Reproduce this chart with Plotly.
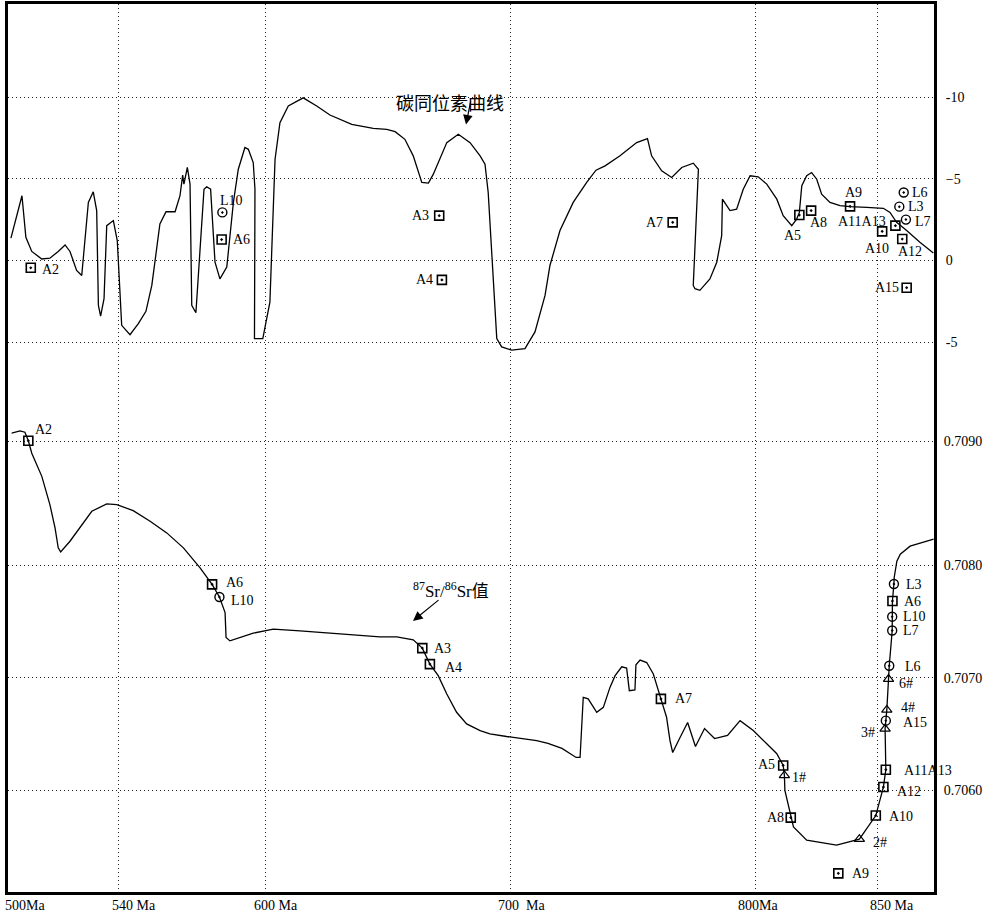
import plotly.graph_objects as go

# ---------------- data ----------------
# Carbon isotope curve: age (Ma) and delta13C (permil)
c_age = [496.3, 500.8, 502.4, 504.8, 508.9, 512.2, 515.6, 518.4, 520.4, 523.1, 525.2, 527.9, 529.9,
         531.3, 532.0, 532.9, 534.3, 535.4, 538.1, 539.7, 541.5, 544.9, 548.3, 551.4, 553.8, 557.1,
         559.6, 563.3, 565.3, 566.4, 566.9, 568.3, 569.4, 570.1, 571.8, 575.1, 576.2, 577.8, 579.6,
         581.6, 584.4, 587.1, 589.1, 591.8, 593.2, 595.2, 595.9, 595.7, 599.1, 602.0, 604.1, 606.1,
         609.5, 615.6, 621.1, 626.5, 635.4, 644.2, 649.7, 653.1, 657.1, 660.5, 664.0, 666.7, 668.7,
         671.1, 674.2, 678.9, 683.7, 687.8, 689.8, 691.1, 694.6, 696.6, 700.7, 706.1, 710.2, 714.3,
         716.3, 720.4, 725.8, 731.3, 735.1, 738.8, 744.9, 751.7, 756.1, 757.8, 761.9, 766.0, 770.1,
         774.8, 776.9, 774.8, 775.5, 777.5, 781.6, 784.4, 786.4, 786.7, 789.8, 792.5, 795.2, 798.0,
         801.3, 804.8, 808.9, 811.5, 815.0, 817.0, 818.1, 819.1, 821.1, 823.1, 825.2, 827.2, 830.6,
         834.7, 838.8, 845.6, 852.4, 855.1, 857.8, 861.9, 867.3, 872.8]
c_val = [1.37, 3.96, 1.42, 0.55, 0.09, 0.14, 0.55, 0.95, 0.55, -0.61, -0.92, 3.55, 4.20,
         3.05, -2.75, -3.40, -2.34, 2.13, 2.44, 1.22, -3.97, -4.54, -3.87, -3.11, -1.53, 2.23,
         2.98, 2.98, 3.96, 5.22, 4.67, 5.69, 4.67, -2.75, -3.20, 4.36, 4.51, 4.36, -0.11,
         -1.13, -0.41, 3.55, 5.58, 6.91, 6.80, 5.99, 4.36, -4.78, -4.78, -2.55, 6.19, 8.43,
         9.45, 9.95, 9.45, 8.90, 8.33, 8.08, 8.02, 7.88, 7.41, 6.40, 4.77, 4.73, 5.28,
         6.09, 7.21, 7.72, 7.21, 6.40, 5.89, 4.16, -4.78, -5.29, -5.49, -5.39, -4.37, -2.14,
         -0.31, 1.83, 3.55, 4.77, 5.52, 5.79, 6.40, 7.21, 7.45, 6.40, 5.48, 5.08, 5.69,
         5.95, 5.58, -1.53, -1.73, -1.83, -1.13, -0.11, 1.52, 3.75, 3.05, 3.14, 4.36, 5.18,
         5.12, 4.67, 3.75, 2.74, 2.13, 2.53, 2.94, 4.57, 5.18, 5.38, 4.97, 4.06, 3.55,
         3.35, 3.29, 3.25, 3.19, 2.94, 2.33, 1.83, 1.11, 0.46]

# 87Sr/86Sr curve: age (Ma) and ratio
sr_age = [496.6, 500.0, 502.0, 503.4, 504.8, 508.9, 512.2, 514.3, 515.6, 516.6, 520.4, 524.5, 529.3,
          535.4, 539.5, 546.2, 553.1, 559.9, 566.7, 573.5, 578.4, 581.4, 583.7, 584.1, 585.7, 595.2,
          603.4, 614.3, 646.9, 653.8, 660.5, 664.2, 667.3, 670.7, 674.2, 678.2, 682.3, 687.8, 691.8,
          698.6, 705.4, 710.9, 715.5, 721.2, 727.0, 728.6, 729.9, 731.9, 735.4, 738.1, 740.8, 742.9,
          745.6, 747.6, 748.7, 751.0, 751.4, 753.1, 755.8, 758.5, 761.6, 763.9, 765.3, 766.4, 769.2,
          772.5, 775.7, 779.4, 783.5, 788.8, 793.9, 799.3, 804.8, 808.9, 811.5, 812.0, 812.2, 814.6,
          815.7, 821.1, 833.3, 842.6, 849.3, 852.4, 853.4, 853.1, 853.4, 853.8, 854.5, 854.8, 856.0,
          856.0, 856.1, 856.7, 856.8, 857.9, 859.3, 863.3, 870.2, 872.9]
sr_val = [0.709171, 0.709192, 0.709180, 0.709104, 0.708994, 0.708788, 0.708537, 0.708330, 0.708153,
          0.708118, 0.708212, 0.708330, 0.708478, 0.708543, 0.708537, 0.708484, 0.708389, 0.708286,
          0.708153, 0.707976, 0.707829, 0.707717, 0.707578, 0.707357, 0.707327, 0.707396, 0.707431,
          0.707416, 0.707363, 0.707363, 0.707336, 0.707263, 0.707121, 0.707018, 0.706856, 0.706693,
          0.706590, 0.706531, 0.706502, 0.706478, 0.706458, 0.706442, 0.706416, 0.706372, 0.706292,
          0.706292, 0.706826, 0.706812, 0.706693, 0.706737, 0.706914, 0.707018, 0.707097, 0.707086,
          0.706885, 0.706891, 0.707115, 0.707157, 0.707135, 0.707033, 0.706812, 0.706649, 0.706442,
          0.706336, 0.706460, 0.706602, 0.706389, 0.706549, 0.706460, 0.706487, 0.706619, 0.706531,
          0.706413, 0.706325, 0.706221, 0.706133, 0.706000, 0.705758, 0.705675, 0.705558, 0.705513,
          0.705566, 0.705776, 0.706029, 0.706183, 0.706546, 0.706619, 0.706714, 0.706988, 0.707106,
          0.707419, 0.707542, 0.707681, 0.707832, 0.707888, 0.708035, 0.708097, 0.708168, 0.708212,
          0.708230]

# carbon samples (squares / circles)
c_sq_names = ['A2', 'A6', 'A3', 'A4', 'A7', 'A5', 'A8', 'A9', 'A11A13', 'A10', 'A12', 'A15']
c_sq_age = [504.4, 582.3, 671.1, 672.2, 766.4, 818.1, 822.9, 838.8, 857.3, 851.9, 860.1, 861.9]
c_sq_val = [-0.45, 1.28, 2.74, -1.19, 2.33, 2.78, 3.05, 3.31, 2.13, 1.78, 1.31, -1.67]
c_ci_names = ['L10', 'L6', 'L3', 'L7']
c_ci_age = [582.6, 860.7, 858.9, 861.6]
c_ci_val = [2.94, 4.16, 3.29, 2.50]

# Sr samples
sr_sq_names = ['A2', 'A6', 'A3', 'A4', 'A7', 'A5', 'A8', 'A10', 'A12', 'A11A13', 'A6', 'A9']
sr_sq_age = [503.4, 578.4, 664.2, 667.3, 761.6, 811.5, 814.6, 849.3, 852.4, 853.4, 856.1, 834.0]
sr_sq_val = [0.709104, 0.707829, 0.707263, 0.707121, 0.706812, 0.706221, 0.705758, 0.705776,
             0.706029, 0.706183, 0.707681, 0.705263]
sr_ci_names = ['L10', 'A15', 'L6', 'L7', 'L10', 'L3']
sr_ci_age = [581.4, 853.4, 854.8, 856.0, 856.0, 856.7]
sr_ci_val = [0.707717, 0.706619, 0.707106, 0.707419, 0.707542, 0.707832]
sr_tr_names = ['1#', '2#', '3#', '4#', '6#']
sr_tr_age = [812.0, 842.6, 853.1, 853.8, 854.5]
sr_tr_val = [0.706133, 0.705566, 0.706546, 0.706714, 0.706988]

c_tick_vals = [10, 5, 0, -5]
c_tick_text = ['-10', '\u22125', '0', '-5']
sr_tick_vals = [0.7060, 0.7070, 0.7080, 0.7091]
sr_tick_text = ['0.7060', '0.7070', '0.7080', '0.7090']
age_grid = [540, 600, 700, 800, 850]
age_labels = ['500Ma', '540 Ma', '600 Ma', '700  Ma', '800Ma', '850 Ma']

# ---------------- style / layout ----------------
W, H = 998, 917
L, R, T, B = 8, 64, 1, 25
PW, PH = W - L - R, H - T - B
SERIF = 'Liberation Serif, Times New Roman, serif'
CJK = 'Noto Sans CJK SC'


def px(x):
    return (x - L) / PW


def py(y):
    return 1 - (y - T) / PH


# label offsets: (xanchor, dx, dy) in screen pixels (dy down positive)
c_sq_lab = [('left', 9, 2), ('left', 9, 0), ('right', -8, 0), ('right', -7, 0), ('right', -8, 0),
            ('center', -7, 20), ('left', -3, 12), ('center', 3, -14), ('right', -7, -4),
            ('center', -5, 17), ('center', 8, 12), ('right', -6, 0)]
c_ci_lab = [('left', -4, -12), ('left', 6, 0), ('left', 7, 0), ('left', 7, 2)]
sr_sq_lab = [('left', 5, -11), ('left', 12, -2), ('left', 10, 0), ('left', 13, 3), ('left', 12, 0),
             ('right', -6, -1), ('right', -5, 0), ('left', 11, 1), ('left', 12, 4), ('left', 16, 1),
             ('left', 10, 0), ('left', 12, 0)]
sr_ci_lab = [('left', 10, 4), ('left', 15, 2), ('left', 14, 1), ('left', 9, 0), ('left', 9, 0),
             ('left', 10, 0)]
sr_tr_lab = [('left', 6, 2), ('left', 12, 3), ('right', -8, 4), ('left', 12, -2), ('left', 8, 4)]

fig = go.Figure()
line_style = dict(color='black', width=1.3)
fig.add_trace(go.Scatter(x=c_age, y=c_val, mode='lines', line=line_style, yaxis='y',
                         hoverinfo='skip', showlegend=False))
fig.add_trace(go.Scatter(x=sr_age, y=sr_val, mode='lines', line=line_style, yaxis='y2',
                         hoverinfo='skip', showlegend=False))

mk_sq = dict(symbol='square-open-dot', size=9, color='black', line=dict(width=1.6, color='black'))
mk_ci = dict(symbol='circle-open-dot', size=9, color='black', line=dict(width=1.4, color='black'))
mk_tr = dict(symbol='triangle-up-open', size=9, color='black', line=dict(width=1.2, color='black'))

sets = [
    (c_sq_names, c_sq_age, c_sq_val, mk_sq, 'y', c_sq_lab),
    (c_ci_names, c_ci_age, c_ci_val, mk_ci, 'y', c_ci_lab),
    (sr_sq_names, sr_sq_age, sr_sq_val, mk_sq, 'y2', sr_sq_lab),
    (sr_ci_names, sr_ci_age, sr_ci_val, mk_ci, 'y2', sr_ci_lab),
    (sr_tr_names, sr_tr_age, sr_tr_val, mk_tr, 'y2', sr_tr_lab),
]
annotations = []
for names, ages, vals, mk, ya, labs in sets:
    fig.add_trace(go.Scatter(x=ages, y=vals, mode='markers', marker=mk, yaxis=ya,
                             hoverinfo='skip', showlegend=False))
    for n, a, v, (anc, dx, dy) in zip(names, ages, vals, labs):
        annotations.append(dict(x=a, y=v, xref='x', yref=ya, text=n, showarrow=False,
                                xanchor=anc, yanchor='middle', xshift=dx, yshift=-dy,
                                font=dict(family=SERIF, size=14, color='black')))

# age labels under the axis
age_label_px = [25, 134, 276, 521, 758, 892]
for t, xp in zip(age_labels, age_label_px):
    annotations.append(dict(x=px(xp), y=0, xref='paper', yref='paper', text=t, showarrow=False,
                            xanchor='center', yanchor='middle', yshift=-13,
                            font=dict(family=SERIF, size=14, color='black')))

# curve titles with arrows
annotations.append(dict(x=px(450), y=py(84), xref='paper', yref='paper', text='碳同位素曲线',
                        showarrow=False, font=dict(family=CJK, size=18, color='black')))
annotations.append(dict(x=px(466), y=py(122), xref='paper', yref='paper', text='',
                        showarrow=True, ax=5, ay=-25, arrowhead=2, arrowsize=1.6,
                        arrowwidth=1.2, arrowcolor='black'))
annotations.append(dict(x=px(451), y=py(588), xref='paper', yref='paper',
                        text='<sup>87</sup>Sr/<sup>86</sup>Sr<span style="font-family:Noto Sans CJK SC">值</span>',
                        showarrow=False, font=dict(family=SERIF, size=17, color='black')))
annotations.append(dict(x=px(413), y=py(620), xref='paper', yref='paper', text='',
                        showarrow=True, ax=27, ay=-22, arrowhead=2, arrowsize=1.6,
                        arrowwidth=1.2, arrowcolor='black'))

# axis ranges derived from plot geometry
x_range = [495.10, 873.06]
c_range = [-38.64, 15.69]
sr_range = [0.7050973, 0.7129823]

grid = dict(showgrid=True, gridcolor='#222', gridwidth=1, griddash='1px,3px')
fig.update_layout(
    width=W, height=H, margin=dict(l=L, r=R, t=T, b=B),
    paper_bgcolor='white', plot_bgcolor='white', showlegend=False,
    xaxis=dict(range=x_range, tickvals=age_grid, showticklabels=False, ticks='', zeroline=False,
               showline=True, linecolor='black', linewidth=3, mirror=True, **grid),
    yaxis=dict(range=c_range, tickvals=c_tick_vals, ticktext=c_tick_text, side='right',
               ticks='outside', ticklen=6, tickcolor='rgba(0,0,0,0)', zeroline=False,
               showline=True, linecolor='black', linewidth=3, mirror=True,
               tickfont=dict(family=SERIF, size=14, color='black'), **grid),
    yaxis2=dict(range=sr_range, tickvals=sr_tick_vals, ticktext=sr_tick_text, side='right',
                overlaying='y', ticks='outside', ticklen=6, tickcolor='rgba(0,0,0,0)',
                zeroline=False, showline=False,
                tickfont=dict(family=SERIF, size=14, color='black'), **grid),
    annotations=annotations,
)
fig.write_html('out.html', config={'displayModeBar': False},
               post_script="document.body.style.margin='0';document.body.style.overflow='hidden';")
